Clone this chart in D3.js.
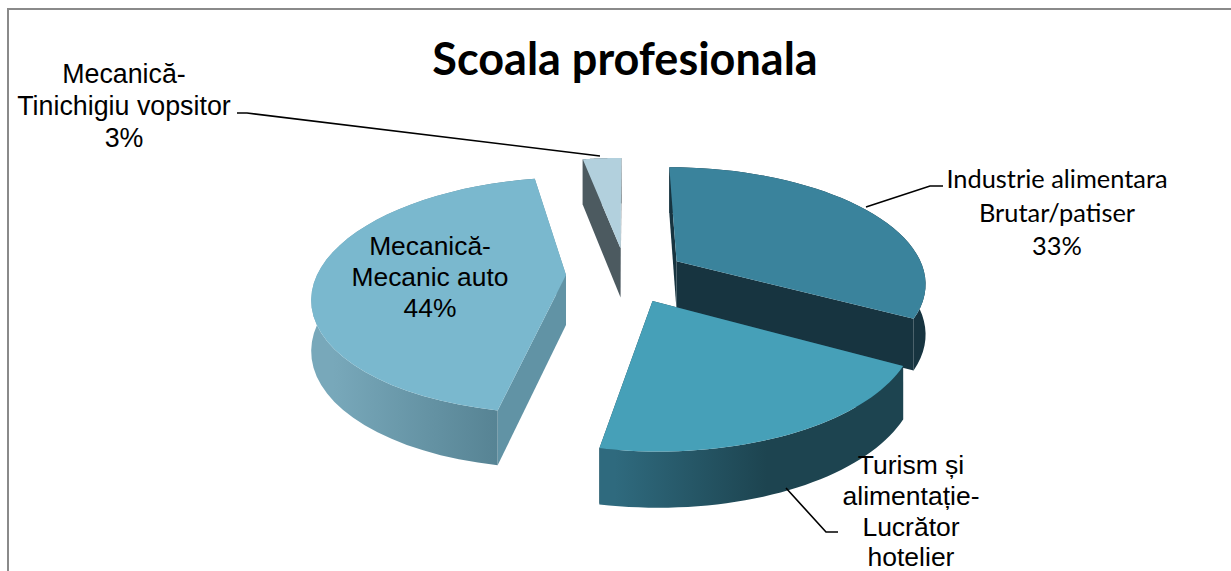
<!DOCTYPE html>
<html>
<head>
<meta charset="utf-8">
<script src="https://cdnjs.cloudflare.com/ajax/libs/d3/7.8.5/d3.min.js"></script>
<style>
	html, body { margin: 0; padding: 0; background: #fff; overflow: hidden; }
	svg { display: block; }
	text { fill: #000; text-anchor: middle; }
</style>
</head>
<body>
<svg id="chart"></svg>
<script>
var title = "Scoala profesionala";
var categories = ["Industrie alimentara Brutar/patiser", "Turism și alimentație- Lucrător hotelier", "Mecanică- Mecanic auto", "Mecanică- Tinichigiu vopsitor"];
var values = [33, 20, 44, 3];
var topColors = ["#3a839c", "#46a0b8", "#7ab8ce", "#b2d0dd"];
var cutColors = ["#173440", "#1d4450", "#6193a5", "#4c5a60"];
var wallFrom = ["#173440", "#2f6a7e", "#78a8ba", "#4c5a60"];
var wallTo = ["#173440", "#1d4450", "#4f7b8b", "#4c5a60"];
var wallStops = [[0, 1], [0.05, 0.55], [0.1, 1], [0, 1]];

var width = 1231, height = 571;
var center = {x: 626, y: 275};
var radius = 249, flatten = 0.46, perspective = 0.172;
var explode = 60, depth = 50;

var svg = d3.select("#chart").attr("width", width).attr("height", height);
var defs = svg.append("defs");

// the frame runs out of the picture on the right and at the bottom
svg.append("path")
	.attr("d", "M8," + height + " V9 H" + width)
	.attr("fill", "none")
	.attr("stroke", "#8a8a8a")
	.attr("stroke-width", 2);

var pie = d3.pie().sort(null);
var arcs = pie(values);

// a point of an exploded slice in true perspective, so the parallel edges converge
function project(arc, r, angle, drop) {
	var mid = (arc.startAngle + arc.endAngle) / 2;
	var px = explode * Math.sin(mid) + r * Math.sin(angle);
	var pz = explode * Math.cos(mid) + r * Math.cos(angle);
	var w = 1 / (1 + perspective * pz / radius);
	return [
		center.x + px * w,
		center.y - flatten * pz * w + drop * Math.sqrt(w)
	];
}

function rim(arc, drop) {
	var steps = d3.range(0, 41).map(function(i) {
		return arc.startAngle + (arc.endAngle - arc.startAngle) * i / 40;
	});
	return steps.map(function(a) { return project(arc, radius, a, drop); });
}

var line = d3.line();

// back slices first, the order is the painter order
var order = [3, 0, 2, 1];
order.forEach(function(i) {
	var arc = arcs[i];
	var g = svg.append("g");
	var apex = project(arc, 0, 0, 0), apexLow = project(arc, 0, 0, depth);
	var top = rim(arc, 0), low = rim(arc, depth);

	var gradient = defs.append("linearGradient").attr("id", "wall" + i);
	gradient.append("stop").attr("offset", wallStops[i][0]).attr("stop-color", wallFrom[i]);
	gradient.append("stop").attr("offset", wallStops[i][1]).attr("stop-color", wallTo[i]);

	// both cut faces
	[[top[0], low[0]], [top[top.length - 1], low[low.length - 1]]].forEach(function(edge) {
		g.append("path")
			.attr("d", line([apex, edge[0], edge[1], apexLow]) + "Z")
			.attr("fill", cutColors[i]);
	});
	// outer wall
	g.append("path")
		.attr("d", line(top.concat(low.slice().reverse())) + "Z")
		.attr("fill", "url(#wall" + i + ")");
	// top face
	g.append("path")
		.attr("d", line([apex].concat(top)) + "Z")
		.attr("fill", topColors[i]);
});

svg.append("text")
	.attr("x", 625).attr("y", 75)
	.style("font", "bold 45px Lato")
	.text(title);

// leader lines
function leaderLine(points) {
	svg.append("path")
		.attr("d", line(points))
		.attr("fill", "none")
		.attr("stroke", "#000")
		.attr("stroke-width", 1.6);
}
leaderLine([[237, 113], [247, 113], [600, 156]]);
leaderLine([[943, 186], [930, 186], [866, 207]]);
leaderLine([[786, 488], [826, 532], [838, 532]]);

function label(lines, x, y, lineHeight, font) {
	var t = svg.append("text").style("font", font);
	lines.forEach(function(s, i) {
		t.append("tspan").attr("x", x).attr("y", y + i * lineHeight).text(s);
	});
}
label(["Mecanică-", "Tinichigiu vopsitor", "3%"], 124, 83, 32, "26.8px 'Liberation Sans'");
label(["Mecanică-", "Mecanic auto", "44%"], 430, 255, 31, "26.4px 'Liberation Sans'");
label(["Industrie alimentara", "Brutar/patiser", "33%"], 1057, 188, 33.5, "25.4px Lato");
label(["Turism și", "alimentație-", "Lucrător", "hotelier"], 911, 474, 30.8, "26.5px 'Liberation Sans'");
</script>
</body>
</html>
